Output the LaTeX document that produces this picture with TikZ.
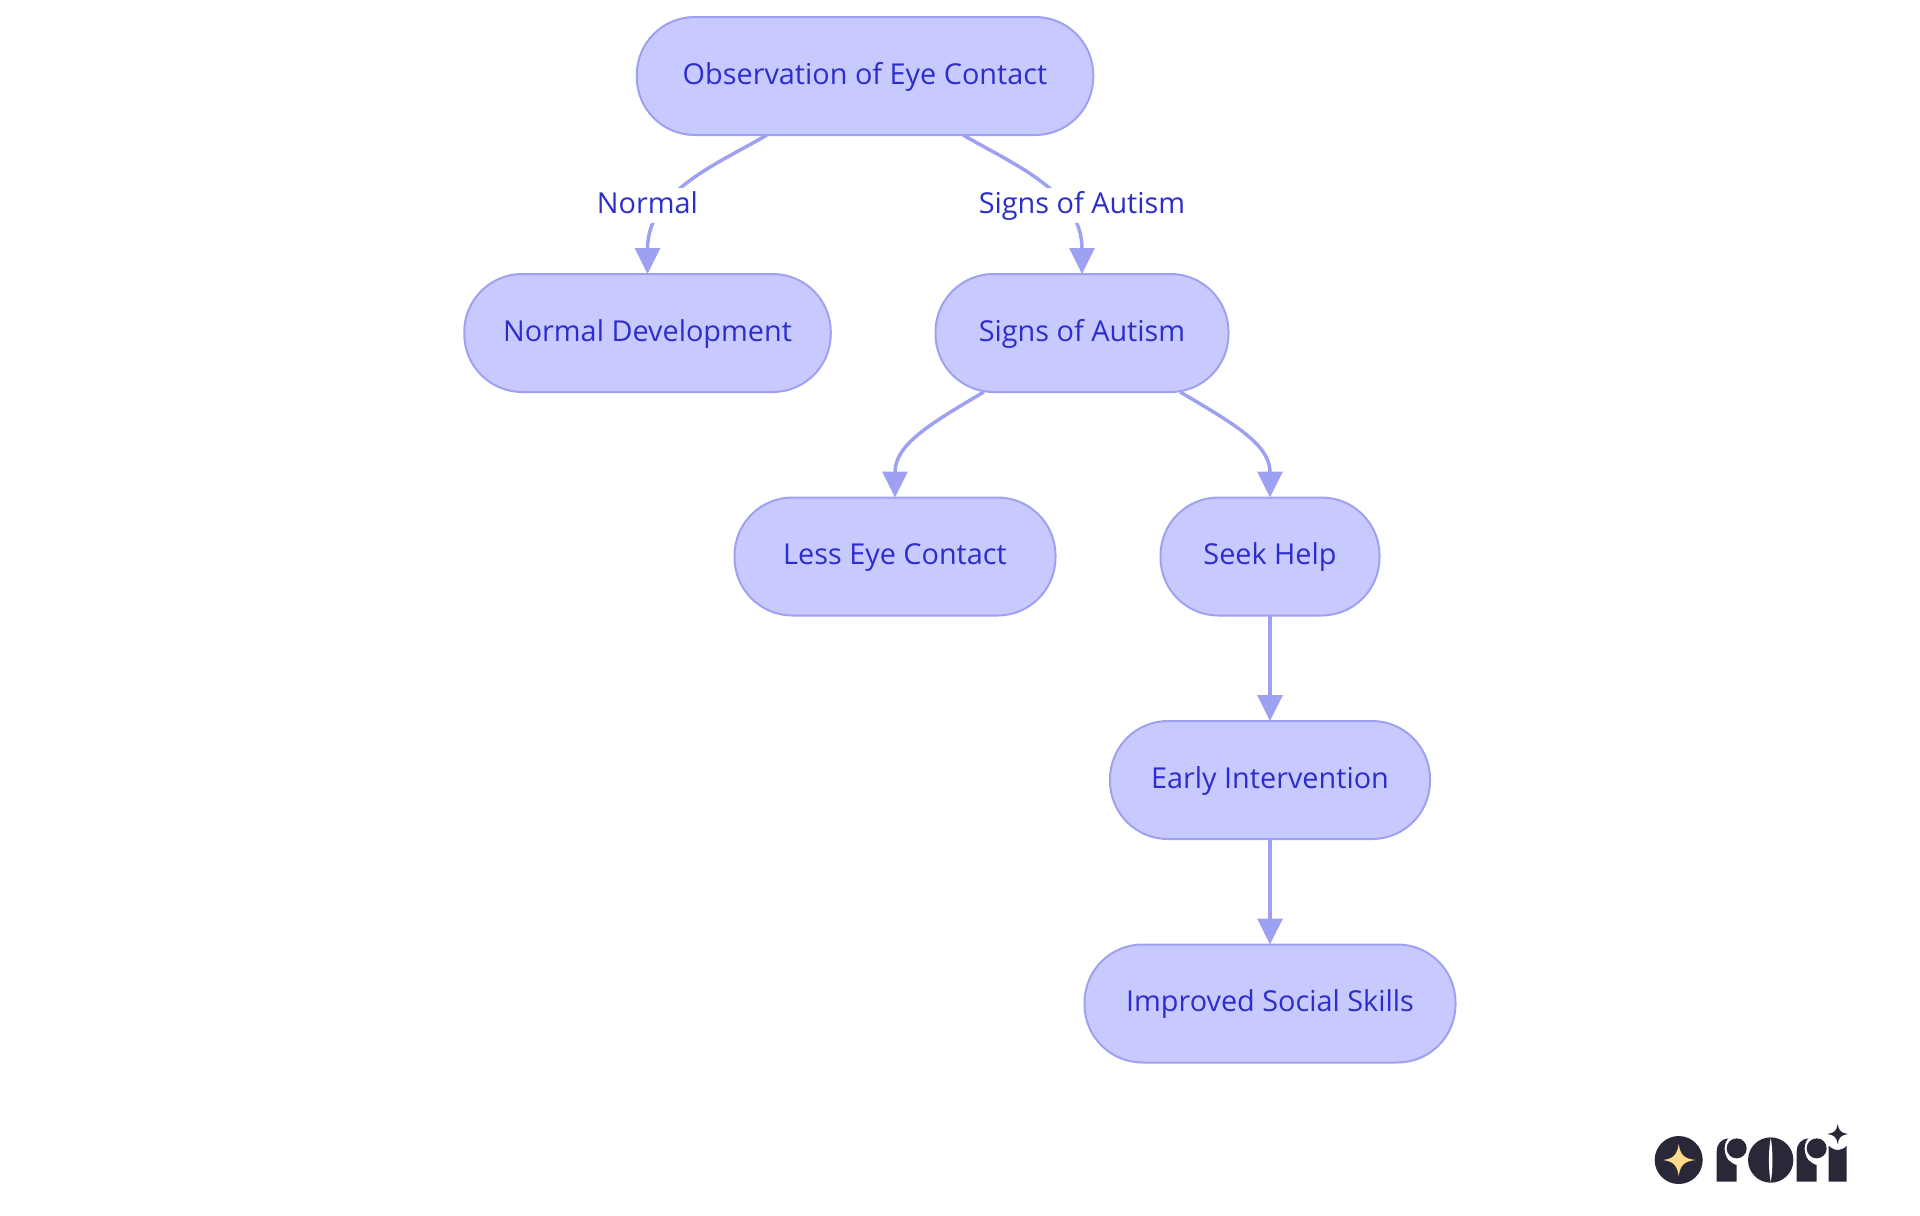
\documentclass[tikz,border=0pt]{standalone}
\usepackage{xcolor}
\usepackage{fontspec}
\setmainfont{Open Sans}
\usepackage{tikz}
\usetikzlibrary{arrows.meta,positioning}

\definecolor{pillfill}{HTML}{C8CAFF}
\definecolor{pilledge}{HTML}{9EA1F2}
\definecolor{pilltext}{HTML}{2D2DCC}
\definecolor{logodark}{HTML}{2A2838}
\definecolor{logostar}{HTML}{FFD98C}

\begin{document}
\begin{tikzpicture}[node distance=4.47cm, auto]
    % Define styles
    \tikzstyle{pill} = [rectangle, rounded corners=1.16cm, minimum height=2.36cm, inner sep=0pt, outer sep=0pt, text centered, text=pilltext, text height=0.45cm, text depth=0.13cm, draw=pilledge, line width=0.04cm, fill=pillfill, font=\fontsize{16.4}{18}\selectfont]
    \tikzstyle{edgelabel} = [fill=white, text=pilltext, inner sep=1pt, text height=0.45cm, text depth=0.13cm, minimum height=0.7cm, font=\fontsize{16.4}{18}\selectfont]
    \tikzstyle{flow} = [-{Triangle[length=0.52cm,width=0.5cm]}, draw=pilledge, line width=0.07cm]

    \useasboundingbox (0,0) rectangle (38.4,-24.3);

    % Nodes
    \node[pill, minimum width=9.13cm] (obs) at (17.30,-1.52) {Observation of Eye Contact};
    \node[pill, minimum width=7.33cm, below of=obs, xshift=-4.35cm, yshift=-0.67cm] (normal) {Normal Development};
    \node[pill, minimum width=5.86cm, below of=obs, xshift=4.34cm, yshift=-0.67cm] (autism) {Signs of Autism};
    \node[pill, minimum width=6.42cm, below of=autism, xshift=-3.74cm] (less) {Less Eye Contact};
    \node[pill, minimum width=4.38cm, below of=autism, xshift=3.76cm] (seek) {Seek Help};
    \node[pill, minimum width=6.4cm, below of=seek] (early) {Early Intervention};
    \node[pill, minimum width=7.42cm, below of=early] (improved) {Improved Social Skills};

    % Connections
    \draw[flow] (obs.211) .. controls +(-0.94,-0.56) and +(0,1.66) .. (normal.north);
    \draw[flow] (obs.329) .. controls +(0.94,-0.56) and +(0,1.66) .. (autism.north);
    \draw[flow] (autism.211) .. controls +(-1.08,-0.64) and +(0,1.06) .. (less.north);
    \draw[flow] (autism.329) .. controls +(1.08,-0.64) and +(0,1.06) .. (seek.north);
    \draw[flow] (seek) -- (early);
    \draw[flow] (early) -- (improved);
    \node[edgelabel, above of=normal, node distance=2.56cm] (normal_label) {Normal};
    \node[edgelabel, above of=autism, node distance=2.56cm] (autism_label) {Signs of Autism};

    % Logo
    \begin{scope}[shift={(32.8,-22.2)}, x=0.006667cm, y=-0.006667cm]
        \fill[logodark] (116,150) circle (72);
        \fill[logostar] (116,102) .. controls (121,135) and (132,146) .. (167,150) .. controls (132,154) and (121,165) .. (116,198) .. controls (111,165) and (100,154) .. (68,150) .. controls (100,146) and (111,135) .. (116,102) -- cycle;
        \fill[logodark] (230,215) -- (230,125) .. controls (230,100) and (245,87) .. (265,85) .. controls (250,100) and (250,130) .. (265,150) .. controls (272,158) and (283,163) .. (290,165) -- (290,215) -- cycle;
        \fill[logodark] (290,115) circle (30);
        \fill[logodark] (392,150) circle (68);
        \fill[white] (392,84) .. controls (385,120) and (385,180) .. (392,216) .. controls (399,180) and (399,120) .. (392,84) -- cycle;
        \fill[logodark] (470,215) -- (470,125) .. controls (470,100) and (485,87) .. (505,85) .. controls (490,100) and (490,130) .. (505,150) .. controls (512,158) and (523,163) .. (530,165) -- (530,215) -- cycle;
        \fill[logodark] (530,115) circle (30);
        \fill[logodark] (566,215) -- (566,107) .. controls (575,116) and (585,120) .. (593,120) .. controls (602,120) and (612,116) .. (620,107) -- (620,215) -- cycle;
        \fill[logodark] (593,42) .. controls (596,62) and (603,69) .. (624,72) .. controls (603,75) and (596,82) .. (593,102) .. controls (590,82) and (583,75) .. (562,72) .. controls (583,69) and (590,62) .. (593,42) -- cycle;
    \end{scope}
\end{tikzpicture}
\end{document}
